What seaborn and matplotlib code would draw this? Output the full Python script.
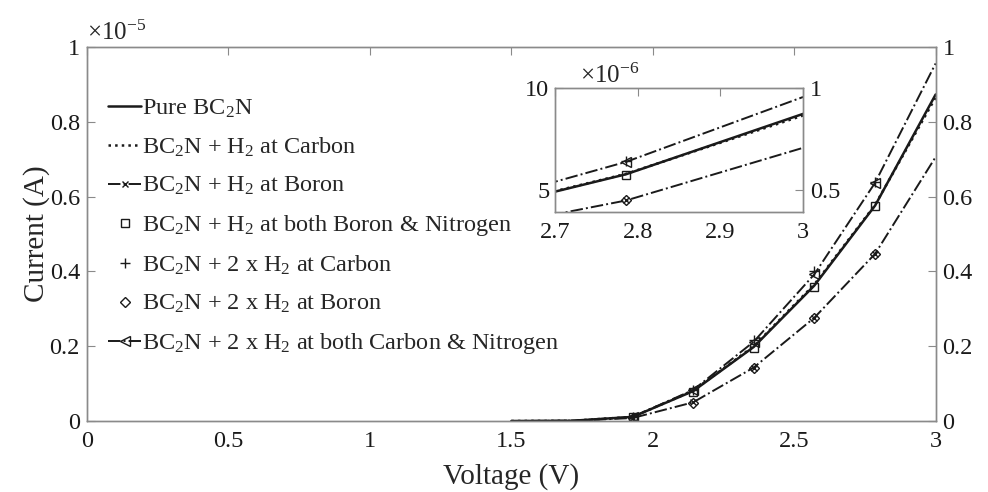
import matplotlib
matplotlib.use("Agg")
import matplotlib.pyplot as plt
from matplotlib.ticker import MultipleLocator, FuncFormatter
import seaborn as sns

# valores en unidades de 1e-5 A
SCALE = 1e-5

voltage = [1.5, 1.714, 1.929, 2.143, 2.357, 2.571, 2.786, 3.0]
pure = [0.0, 0.0006, 0.011, 0.080, 0.198, 0.362, 0.576, 0.873]
h2_carbon = [0.0, 0.0006, 0.011, 0.081, 0.200, 0.365, 0.578, 0.865]
h2_boron = [0.0, 0.0004, 0.008, 0.050, 0.143, 0.276, 0.447, 0.706]
two_h2_cn = [0.0, 0.0006, 0.011, 0.083, 0.212, 0.392, 0.637, 0.956]

# series dibujadas solo con marcadores
marker_voltage = [1.929, 2.143, 2.357, 2.571, 2.786]
h2_bn = [0.010, 0.078, 0.195, 0.358, 0.574]
two_h2_carbon = [0.010, 0.084, 0.217, 0.400, 0.640]
two_h2_boron = [0.008, 0.048, 0.142, 0.275, 0.447]

labels = [
    "Pure BC$_2$N",
    "BC$_2$N + H$_2$ at Carbon",
    "BC$_2$N + H$_2$ at Boron",
    "BC$_2$N + H$_2$ at both Boron & Nitrogen",
    "BC$_2$N + 2 x H$_2$ at Carbon",
    "BC$_2$N + 2 x H$_2$ at Boron",
    "BC$_2$N + 2 x H$_2$ at both Carbon & Nitrogen",
]

sns.set_theme(style="white")
plt.rcParams["font.family"] = ["Liberation Serif", "DejaVu Serif"]
plt.rcParams["mathtext.fontset"] = "custom"
plt.rcParams["mathtext.rm"] = "Liberation Serif"
plt.rcParams["mathtext.it"] = "Liberation Serif:italic"
plt.rcParams["mathtext.default"] = "regular"
plt.rcParams["xtick.direction"] = "in"
plt.rcParams["ytick.direction"] = "in"

SPINE = "#8a8a8a"
TICK_FS = 17.5
plain = FuncFormatter(lambda v, p: f"{v:g}")


def scaled(values):
    return [v * SCALE for v in values]


def draw_series(ax, with_labels=True):
    lab = (lambda i: labels[i]) if with_labels else (lambda i: None)
    common = dict(color="k", errorbar=None, sort=False, ax=ax, legend=False)
    hollow = dict(markerfacecolor="none", markeredgecolor="k", markeredgewidth=1.0)
    sns.lineplot(x=voltage, y=scaled(pure), linestyle="-", linewidth=1.8, label=lab(0), **common)
    sns.lineplot(x=voltage, y=scaled(h2_carbon), linestyle=":", linewidth=1.8, label=lab(1), **common)
    sns.lineplot(x=voltage, y=scaled(h2_boron), linestyle="-.", linewidth=1.4, marker="x",
                 markersize=5, markevery=list(range(2, 7)), label=lab(2), **common, **hollow)
    sns.lineplot(x=marker_voltage, y=scaled(h2_bn), linestyle="none", marker="s",
                 markersize=5.5, label=lab(3), **common, **hollow)
    sns.lineplot(x=marker_voltage, y=scaled(two_h2_carbon), linestyle="none", marker="+",
                 markersize=7, label=lab(4), **common, **hollow)
    sns.lineplot(x=marker_voltage, y=scaled(two_h2_boron), linestyle="none", marker="D",
                 markersize=5.5, label=lab(5), **common, **hollow)
    sns.lineplot(x=voltage, y=scaled(two_h2_cn), linestyle="-.", linewidth=1.4, marker="<",
                 markersize=6.5, markevery=list(range(2, 7)), label=lab(6), **common, **hollow)


def style_axes(ax):
    for s in ax.spines.values():
        s.set_color(SPINE)
        s.set_linewidth(1.0)
    ax.tick_params(colors=SPINE, labelcolor="k", length=6, width=0.8, labelsize=TICK_FS)


fig = plt.figure(figsize=(9.88, 4.92), dpi=100)
ax = fig.add_axes([0.088, 0.1443, 0.859, 0.7602])
draw_series(ax)
ax.set_xlim(0, 3)
ax.set_ylim(0, 1e-5)
ax.xaxis.set_major_locator(MultipleLocator(0.5))
ax.yaxis.set_major_locator(MultipleLocator(0.2e-5))
ax.xaxis.set_major_formatter(plain)
ax.yaxis.set_major_formatter(FuncFormatter(lambda v, p: f"{v / 1e-5:.10g}"))
style_axes(ax)
ax.tick_params(axis="x", top=True, pad=7)
ax.tick_params(axis="y", right=False, pad=5)
ax.set_xlabel("Voltage (V)", fontsize=21, labelpad=8)
ax.set_ylabel("Current (A)", fontsize=21, labelpad=0)
ax.text(0.0, 1.005, r"$\times$10$^{-5}$", transform=ax.transAxes, fontsize=18,
        ha="left", va="bottom")

ax_r = ax.twinx()
ax_r.set_ylim(0, 1)
ax_r.yaxis.set_major_locator(MultipleLocator(0.2))
ax_r.yaxis.set_major_formatter(plain)
style_axes(ax_r)
ax_r.tick_params(axis="y", pad=5)

leg = ax.legend(loc="upper left", bbox_to_anchor=(0.025, 0.864), frameon=False, fontsize=17.5,
                handlelength=1.35, handletextpad=0.05, labelspacing=0.65, borderaxespad=0,
                borderpad=0)

# recuadro ampliado
axin = fig.add_axes([0.5617, 0.569, 0.2511, 0.252])
axin.set_facecolor("white")
draw_series(axin, with_labels=False)
axin.set_xlim(2.7, 3)
axin.set_ylim(3.9e-6, 1e-5)
axin.xaxis.set_major_locator(MultipleLocator(0.1))
axin.xaxis.set_major_formatter(plain)
axin.set_yticks([5e-6, 1e-5])
axin.yaxis.set_major_formatter(FuncFormatter(lambda v, p: f"{v / 1e-6:.10g}"))
style_axes(axin)
axin.tick_params(axis="x", top=True, pad=7)
axin.tick_params(axis="y", right=False, pad=4)
axin.set_xlabel("")
axin.set_ylabel("")
axin.text(0.1, 1.0, r"$\times$10$^{-6}$", transform=axin.transAxes, fontsize=18,
          ha="left", va="bottom")

axin_r = axin.twinx()
axin_r.set_ylim(0.39, 1)
axin_r.set_yticks([0.5, 1])
axin_r.yaxis.set_major_formatter(plain)
style_axes(axin_r)
axin_r.tick_params(axis="y", pad=5)

fig.savefig("out.png", dpi=100)
